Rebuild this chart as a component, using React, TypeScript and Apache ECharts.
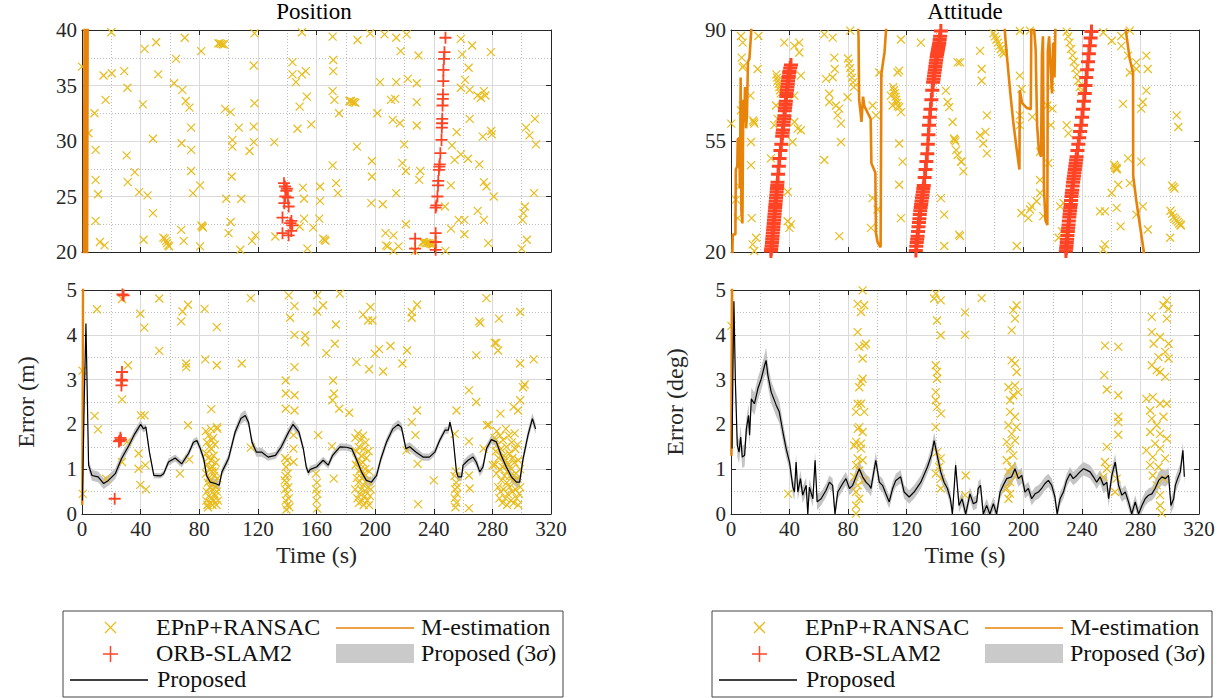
import React, { useEffect, useRef } from 'react';
import * as echarts from 'echarts';

// ---------------- DATA ----------------
const timeMin = 0;
const timeMax = 320;
const timeStep = 40;

// Proposed position error [t, value, 3-sigma half width]
const posProposed: number[][] = [
  [0.3,0.3,0.05],[1.5,2.5,0.1],[2.7,4.25,0.1],[4.5,1.09,0.12],[6.8,0.86,0.12],[11,0.83,0.12],[14.8,0.68,0.12],[18,0.75,0.12],[22.7,0.9,0.12],[27,1.24,0.12],[32,1.53,0.1],[36,1.79,0.1],[40,2.0,0.1],[42,1.9,0.08],[43.6,1.94,0.08],[46,1.38,0.08],[49,0.86,0.06],[53.4,0.85,0.06],[55.7,0.9,0.06],[59,1.16,0.08],[63.6,1.25,0.08],[68,1.12,0.08],[72.7,1.35,0.08],[76,1.6,0.08],[78.4,1.64,0.08],[80.7,1.46,0.1],[83,1.24,0.1],[85,0.86,0.1],[87.5,0.71,0.1],[91,0.68,0.1],[93.6,0.64,0.1],[95.5,0.94,0.1],[100,1.24,0.1],[104.5,1.83,0.1],[108.4,2.13,0.12],[111.4,2.2,0.12],[113.6,2.05,0.1],[116,1.6,0.1],[119,1.38,0.1],[122.7,1.38,0.1],[127,1.27,0.08],[132,1.31,0.08],[136,1.5,0.1],[141,1.83,0.1],[144,2.0,0.1],[148,1.83,0.1],[151,1.46,0.08],[153,1.05,0.08],[154.5,0.92,0.08],[155.5,0.99,0.08],[160,1.05,0.08],[164.5,1.2,0.08],[168,1.09,0.08],[171,1.31,0.08],[176,1.5,0.08],[180.5,1.49,0.08],[184,1.46,0.08],[187,1.24,0.1],[190.7,0.94,0.1],[194,0.75,0.1],[197.5,0.71,0.1],[201,0.86,0.1],[204,1.24,0.1],[207.7,1.6,0.1],[212,1.9,0.1],[215.7,2.0,0.1],[218,1.93,0.1],[221,1.46,0.1],[223.6,1.5,0.1],[228,1.38,0.1],[232.7,1.27,0.08],[237,1.27,0.08],[240.7,1.38,0.08],[244,1.64,0.08],[247.7,1.87,0.08],[250,1.87,0.08],[251,2.05,0.08],[253,1.76,0.08],[255.5,0.94,0.1],[256.6,0.83,0.1],[259,0.83,0.1],[260,1.09,0.1],[263.4,1.2,0.1],[266.8,1.27,0.1],[269,1.16,0.1],[271.4,0.94,0.1],[273.6,1.05,0.1],[276,1.46,0.1],[279.3,1.66,0.1],[282.7,1.61,0.1],[286,1.31,0.1],[289.5,1.05,0.1],[293,0.83,0.12],[296.4,0.71,0.12],[298.6,0.71,0.12],[301,1.24,0.12],[304.3,1.76,0.12],[307.3,2.13,0.12],[309.5,1.9,0.12]
];

// Proposed attitude error [t, value, 3-sigma half width]
const attProposed: number[][] = [
  [0.7,1.46,0.2],[1.4,3.4,0.25],[2,4.75,0.25],[3,2.95,0.25],[4.3,1.53,0.25],[5.5,1.38,0.25],[6.6,1.72,0.25],[7.7,1.27,0.25],[9.3,1.31,0.25],[10.5,1.9,0.25],[12,2.2,0.25],[12.7,1.76,0.25],[13.9,2.57,0.25],[16,2.46,0.25],[18.4,2.8,0.25],[20.7,3.02,0.25],[23,3.32,0.25],[24,3.43,0.3],[25.2,3.1,0.25],[27.5,2.72,0.25],[30.9,2.43,0.25],[33,2.28,0.25],[35.5,1.83,0.22],[37.7,1.46,0.2],[40,1.16,0.18],[42.3,0.6,0.18],[43.4,0.49,0.18],[44.5,1.16,0.18],[45.7,0.49,0.18],[47.5,0.79,0.18],[49,0.42,0.18],[51.4,0.64,0.18],[52.5,0,0.18],[53.6,0.6,0.18],[56,0.34,0.18],[57.5,1.2,0.18],[58.9,0.27,0.18],[61.6,0.34,0.15],[65,0.53,0.15],[67.3,0.71,0.15],[69.5,0.64,0.15],[71.1,0,0.15],[73,0.49,0.15],[76.4,0.68,0.15],[78.6,0.79,0.15],[81,0.57,0.15],[83.2,0.64,0.15],[85.5,0.83,0.18],[87.7,1.01,0.18],[90,0.83,0.18],[92.3,0.71,0.18],[94.5,0.64,0.18],[95.7,0.57,0.18],[99,1.2,0.18],[101.4,0.71,0.15],[103.6,0.64,0.15],[105.9,0.45,0.15],[108.2,0.27,0.15],[110.5,0.57,0.15],[112.7,0.75,0.15],[116,0.83,0.15],[118.4,0.49,0.15],[121.8,0.38,0.15],[125.2,0.49,0.15],[129.8,0.71,0.15],[134.3,1.05,0.15],[137,1.31,0.18],[138.9,1.64,0.18],[141,1.31,0.18],[143.4,0.94,0.18],[145.7,0.71,0.15],[148,0.57,0.15],[150,0.34,0.15],[151.4,0,0.15],[153.6,1.09,0.15],[155.9,0.19,0.15],[158,0.34,0.15],[160.5,0,0.15],[163.4,0.45,0.15],[165.7,0.23,0.15],[168,0.27,0.15],[169,0.57,0.15],[170.6,0.64,0.15],[172.5,0,0.15],[174.8,0.19,0.15],[177,0,0.15],[179.4,0.23,0.15],[181.6,0,0.15],[184,0.49,0.15],[186.2,0.64,0.15],[188.5,0.79,0.18],[191.9,0.83,0.18],[194.2,1.01,0.18],[196.5,0.79,0.18],[198.8,0.86,0.18],[201,0.49,0.15],[203.3,0.57,0.15],[205.6,0.34,0.15],[207.9,0.45,0.15],[210.2,0.49,0.15],[212.4,0.57,0.15],[214.7,0.68,0.15],[217,0.75,0.15],[219.3,0.64,0.15],[221.5,0.38,0.15],[223,0,0.15],[225,0.34,0.15],[227.3,0.49,0.15],[229.5,0.75,0.15],[231.8,0.9,0.15],[234,0.79,0.15],[236.4,0.86,0.15],[238.6,0.94,0.15],[241,1.01,0.15],[243.2,0.98,0.15],[245.5,0.94,0.15],[247.8,0.83,0.15],[250,0.71,0.15],[252.4,0.83,0.15],[254.7,0.64,0.18],[257,0.71,0.18],[258.2,0.34,0.18],[260.4,0.86,0.18],[262.7,1.16,0.18],[265,0.64,0.18],[267.3,0.42,0.15],[269.6,0.49,0.15],[271.8,0.27,0.15],[274,0,0.15],[276.4,0.27,0.15],[278.7,0,0.15],[281,0.19,0.15],[283.2,0.34,0.15],[285.5,0.42,0.15],[287.8,0.45,0.15],[290,0.57,0.18],[292.4,0.75,0.18],[294.7,0.83,0.18],[297,0.79,0.18],[299.2,0.86,0.18],[300.8,0.19,0.18],[302.7,0.34,0.18],[303.8,0.64,0.18],[305.4,0.79,0.18],[307.2,0.94,0.18],[309,1.42,0.18],[310,0.83,0.18]
];

// M-estimation (values above the axis ranges leave the plot)
const posMest: number[][] = [
  [0.2,0.2],[0.6,3.6],[1,12],[1.8,45],[2.2,19],[2.6,45],[3.2,45],[3.5,19],[4,45],[10,120]
];
const attMest: number[][] = [
  [0.3,1.3],[0.6,4.5],[0.8,5.5],[0.9,19],[1.2,25.5],[3,25.5],[3.3,46],[4.3,47],[4.6,55.5],[5.6,56],[6.1,40],[6.6,75],[7.1,33],[7.8,29],[8.4,68],[9,61],[9.6,72],[10.3,59],[10.9,63],[11.6,80],[12.6,81],[13.6,88],[14.5,95],
  [50,120],[86,120],
  [86.5,95],[87.2,88],[87.6,68],[88.6,64],[89.2,61],[90.3,69],[91.2,66],[95.5,62],[96,48],[98.7,45],[99.1,26],[100.3,23],[102.3,21.5],[102.8,76],[104,80],[105,83],[106,90],[107,96],
  [150,120],[186,120],
  [186.5,95],[187.5,88],[189,80],[191,70],[193,61],[195.3,52.5],[197.2,46],[197.5,71],[199,67],[202,65.5],[205,65],[205.3,89],[206,95],[207.3,90],[208.3,84],[209.3,60],[210.5,52],[212,50],[212.6,82],[213.3,88],[214,40],[215,30],[216.3,28.5],[216.6,83],[217.5,88],[218.5,78],[219.5,70],[220.3,86],[221.2,75],[222,96],
  [250,120],[268,120],
  [268.8,95],[270.5,88],[272.6,81],[274.9,76.5],[275,44],[277.2,36],[279.5,28.7],[282.2,20.3],[283,12]
];

// EPnP+RANSAC position error [t, value]
const posEpnp: number[][] = [
  [0,36.7],[8.5,32.5],[4.4,30.7],[9.3,29.2],[9.3,26.5],[11,25.2],[9.3,22.8],[12.2,20.9],[15.4,20.6],[14.7,35.9],[20.3,36.1],[16.1,33.7],[20,39.8],[28.8,36.3],[31,34.8],[30.5,28.7],[31.2,26.3],[36,27.2],[39,25.4],[41.5,33.3],[42.7,38.3],[42,21.1],[44.7,25.1],[48.4,30.2],[48.4,23.5],[50.6,38.9],[52,36],[62.8,35.2],[64.2,37.4],[67.9,29.8],[68.4,34.6],[70.8,33.6],[73.3,33],[74.5,31.2],[74.5,29.2],[74.5,27.3],[75.7,25.3],[70.1,39.3],[67.7,22],[69.4,21],[80.6,26],[81.3,38.1],[80.6,20.5],[97.7,32.9],[101.4,32.6],[98.4,24.8],[100,21.7],[102.6,30.1],[102.6,29.5],[102.1,26.8],[101.4,22.7],[107,31.2],[108.7,24.8],[108,20.2],[114.3,29.1],[117.2,31.3],[117.7,33.4],[117.2,36.8],[117.7,39.7],[117.2,29.9],[118.4,21.5],[116,21],[131.2,29.9],[131.9,21.4],[143.6,37.1],[143.6,36],[146,35.3],[148.5,33.1],[147,31.1],[150,36],[152.7,36.3],[153.4,34],[156.4,31.5],[148.5,22.3],[151.5,23],[151.5,24.8],[150.7,25.8],[150,39.8],[153.8,20.3],[157.8,22.2],[161.9,23],[162.4,25.9],[162.4,24.6],[171.4,36.3],[171.4,37.3],[171,34.5],[172.2,33.7],[171,27.8],[173.4,26.2],[175.4,32.5],[174.6,25.3],[171,39.4],[188,39.1],[187.6,29.5],[196.6,39.7],[197.8,28.2],[197.8,26.8],[197.4,24.4],[201.5,32.5],[203.3,35.3],[205.2,24.3],[206.4,39.6],[207.1,21.7],[210.8,33.7],[213.7,33.8],[212,31.9],[214.4,39.3],[214.4,35.3],[214.4,25.3],[216.9,31.6],[217.4,38.1],[218.6,28],[219.8,29.7],[221,27.3],[221.5,39.6],[222.3,35.6],[221,22.5],[212.5,21.5],[212.5,20.1],[228.4,35.2],[229.6,37.7],[228.4,33.5],[228.4,31.4],[230.8,27.3],[230.1,26.5],[227.2,20.1],[247.6,24.1],[251.7,26],[251.7,22.1],[252.4,29.6],[254.2,28.3],[255.6,30.8],[258.5,39.2],[259.4,37.8],[258.5,34.8],[261.4,35.5],[258.5,28.8],[257,22.9],[260.9,22.9],[260.9,21.6],[263.8,36.6],[264.5,34.6],[263.4,28.4],[264.5,32],[266.2,38.6],[269.9,34.1],[271.1,27.9],[272.2,33.9],[274.2,34.5],[275.2,34.1],[273.5,30.4],[274.2,26.3],[276,25.9],[274.2,22.9],[277.2,20.8],[279,38],[270,23.7],[279.2,30.9],[280.9,25],[279.6,30.6],[300.5,22.9],[302.2,24.1],[301.2,23.5],[303,31.2],[305.3,30.5],[309,32],[309.7,29.7],[308.4,25.3],[303.5,21.1],[300,20.3],[248,20.1],[216,20.5],
  [93,38.8],[94,38.8],[95,38.75],[96,38.7],[97,38.7],[182.5,33.6],[183.5,33.6],[184.5,33.5],[185.5,33.5],[186.5,33.45],[55.5,21.3],[56.5,21.2],[57.5,21],[58,20.8],[58.8,20.6],[59.5,20.5],[81.5,22.4],[82,22.3],[82.5,22.2],[164.5,21.2],[165.5,21.1],[166.2,21],[207.5,20.6],[208.5,20.5],[232.5,20.9],[233.5,20.9],[234.5,20.8],[235.5,20.8],[236.5,20.8],[237.5,20.75],[238.5,20.7],[239.5,20.7],
  [0.5,0.45],[0.3,3.2],[10.2,4.57],[8.6,2.19],[10.9,1.89],[16.4,0.79],[27.3,4.8],[27.3,2.56],[31.4,3.32],[30.7,1.61],[27.3,1.16],[39.8,4.47],[42.5,4.16],[40.2,2.2],[42.7,2.2],[38.6,1.35],[38.6,1.01],[43.2,1.09],[39.8,0.65],[43.6,0.55],[52.7,4.81],[52.7,3.64],[67.7,4.3],[68.6,4.52],[72.3,4.67],[71.1,3.28],[71.1,3.36],[72.3,1.98],[73.2,1.22],[66.8,0.9],[83.6,4.58],[84.1,3.45],[92,4.17],[92,3.32],[88.2,2.34],[92,1.94],[109,3.36],[115.2,1.48],[115.2,4.82],[141,4.88],[145,4.64],[142,4.38],[145,4],[145,3.28],[139,2.98],[139,2.69],[145,2.65],[139,2.35],[145,2.31],[144.3,1.76],[144.3,1.46],[144.3,1.16],[152.3,3.99],[152.3,3.84],
  [160.5,4.88],[160.5,4.52],[164.5,4.66],[175.9,4.92],[173.2,4.23],[172.5,3.8],[166.8,3.59],[171.4,2.98],[171.9,2.69],[170.9,2.54],[175.5,2.35],[182.3,2.26],[161.1,1.76],[170.5,1.51],[171.8,0.79],[191.8,4.45],[196.8,4.62],[195.2,4.32],[198.2,4.32],[187.3,3.39],[195.9,3.23],[199.8,3.58],[202.7,3.68],[205.5,3.18],[210.5,3.75],[218.6,3.36],[221.8,3.65],[225,4.38],[225,4.51],[228.6,4.67],[225,2.05],[228.6,2.31],[227.5,1.76],[221.4,1.42],[229,1.12],[240,0.75],[229.3,0.22],[275.9,4.82],[271,4.3],[271.8,4.26],[284.5,4.36],[299,4.51],[269.1,3.54],[281.6,3.82],[282.7,3.82],[283.9,3.65],[299,3.36],[308.2,3.45],[302,2.89],[301,2.83],[264,2.76],[269,2.5],[255.5,2.31],[299,2.54],[294.5,2.39],[297.5,2.31],[285.5,2.24],[276.4,1.98],[277.5,1.99],[254.3,1.79],[264,1.62],[274,1.46],[280.2,1.09],[264,0.86],[264.5,0.57],[264,0.13],
  [84.5,1.85],[85.2,1.6],[84.8,1.35],[85.5,1.1],[84.6,0.9],[85.8,0.7],[85.1,0.5],[84.9,0.3],[85.6,0.2],[86.3,1.75],[86.8,1.5],[86.1,1.25],[87,1.0],[86.5,0.8],[87.2,0.6],[86.4,0.4],[87.5,0.25],[88,1.9],[88.3,1.45],[87.9,1.2],[88.6,0.95],[88.1,0.75],[88.8,0.55],[88.2,0.35],[89,0.2],[89.5,1.7],[89.8,1.3],[89.2,1.05],[90,0.85],[89.6,0.65],[90.3,0.45],[89.9,0.3],[90.8,1.55],[91.2,1.15],[90.6,0.95],[91.5,0.6],[91,0.4],[91.8,0.2],[92.3,1.9],[92.5,0.8],[92,0.5],[92.8,0.3],[86,0.15],[88.5,1.65],
  [138.5,1.25],[139.2,1.05],[140,1.2],[138.8,0.85],[139.6,0.7],[140.4,0.9],[138.6,0.55],[139.8,0.45],[140.8,0.6],[139,0.3],[140.2,0.2],[141,0.35],[139.5,0.1],[141.5,0.15],[138.3,0.75],
  [159.6,0.9],[160.3,0.7],[159.8,0.55],[160.5,0.45],[160,0.3],[160.4,0.12],
  [186.5,1.7],[187.2,1.4],[186.8,1.1],[187.5,0.8],[186.4,0.55],[187.9,0.35],[188.3,1.8],[188.8,1.5],[188.1,1.2],[189.2,0.95],[188.6,0.7],[189.5,0.45],[188.9,0.25],[190.2,1.65],[190.6,1.3],[190,1.0],[190.9,0.8],[190.4,0.55],[191.2,0.3],[191.8,1.75],[192.3,1.45],[191.6,1.15],[192.6,0.9],[192,0.65],[192.9,0.4],[192.2,0.2],[193.5,1.6],[194,1.25],[193.3,1.0],[194.5,0.75],[193.8,0.5],[194.8,0.3],[195.5,1.4],[196,0.95],[195.3,0.6],[196.5,0.4],[195.8,0.2],[197,0.55],
  [254.2,0.85],[255.3,0.7],[254.6,0.55],[255.8,0.45],[254.3,0.35],[255.5,0.25],[254.8,0.15],[256,0.6],[255,0.95],
  [281.5,1.7],[282.3,1.4],[281.8,1.1],[283,1.85],[283.5,1.55],[282.8,0.9],[284.2,1.25],[283.9,0.6],[284.8,0.35],[285.3,1.75],[285.8,1.45],[285.1,1.0],[286.2,0.75],[285.6,0.5],[286.8,0.25],[287.3,1.65],[287.8,1.3],[287.1,1.05],[288.3,0.85],[287.6,0.55],[288.8,0.35],[289.2,1.9],[289.6,1.5],[289.1,1.2],[290.2,0.95],[289.8,0.7],[290.5,0.45],[290,0.2],[291.2,1.75],[291.6,1.35],[291,1.1],[292.2,0.85],[291.8,0.6],[292.6,0.3],[293.2,1.6],[293.7,1.25],[293,1.0],[294.2,0.75],[293.6,0.5],[294.6,0.25],[295.2,1.8],[295.6,1.45],[295,1.15],[296.2,0.9],[295.8,0.55],[296.6,0.35],[297.2,1.55],[297.7,1.2],[297,0.8],[298.2,0.45],[297.6,0.2],[298.8,1.0],[299,0.6]
];

// EPnP+RANSAC attitude error [t, value]
const attEpnp: number[][] = [
  [6.8,88.1],[8,86],[7.3,81.3],[8,78.2],[8.7,78.7],[18.7,88.1],[18.2,77.7],[13.2,69.3],[8,66.2],[6.8,64.7],[13.7,54.7],[13.7,47.4],[5.7,40.7],[3.4,36.5],[4.6,30.7],[14.1,30.7],[14.8,22.4],[17.1,24.5],[15.9,20.3],[0.2,60.5],[30.8,66.2],[31.9,62],[29.6,60],[46.7,86],[43.3,85],[46.7,82.9],[36.4,86],[47.8,75.6],[43.3,69.3],[43.3,61],[45.6,58.9],[47.8,58.4],[42.1,54.7],[38.7,39],[38.7,29.7],[41,28.7],[39.9,27.6],[27.3,49.5],[63.8,88.6],[69.5,87.6],[70.6,81.3],[64.9,74.6],[69.5,75.1],[67.2,69.9],[67.2,67.3],[71.8,66.2],[74,65.2],[72.9,63.1],[75.2,60.5],[75.2,54.7],[63.8,49],[74,25],[71,77.7],[81.5,89.8],[79.7,68.8],[96.8,66.2],[99.1,63.1],[96.8,37],[100.2,33.4],[95.7,27.6],[101.4,76.6],[113.9,76.6],[115,77.2],[115,65.7],[116.2,64.1],[116.2,87],[109.3,69.3],[110.5,66.2],[115,54.2],[117.3,48.5],[115,41.2],[116.2,30.7],[129.8,86],[146.9,70.9],[148.1,67.3],[149.2,65.7],[151.5,61],[154,52.1],[155,50.6],[157.2,48.5],[155,79.8],[143.5,37],[145.8,31.8],[156,25.5],[145.8,21.9],
  [197.5,89.7],[204.4,89.8],[170.3,83.4],[171.4,77.7],[171.4,74],[156.6,79.8],[197.5,75.6],[198.6,71.4],[206,62.6],[197.5,63.1],[197.5,60],[175,63.1],[174,57.9],[170.3,56.8],[172.5,54.2],[175,51.1],[157.7,48.5],[158.9,45.4],[211.3,51.6],[211.3,42.7],[217,48],[211.3,38.6],[209,36],[205.5,34.4],[204.4,33.4],[198.6,32.3],[203.3,30.7],[213.5,31.3],[227.4,35.4],[225.1,34.4],[226.2,26.6],[224,24.5],[229.5,60],[230.7,57.4],[218.7,60],[219.8,65.2],[216.3,66.2],[218.7,72],[195.4,21.9],[254.6,89.2],[260.3,86.6],[266.9,88.1],[266.9,85],[272.7,89.8],[271.5,81.9],[277.2,79.8],[277.2,77.7],[284,81.9],[272.7,76.6],[285,77.7],[284,70.9],[281.6,67.3],[280.5,65.2],[268.1,66.7],[263.7,46.4],[271.5,49.5],[280.5,48.5],[264.8,41.2],[272.7,41.7],[260.3,38.6],[252.3,32.8],[255.7,32.8],[263.7,33.9],[277.2,31.8],[281.6,34.4],[266.4,28.1],[255.7,22.4],[254.6,20.8],[285,27.1],[304.7,63.1],[305.9,59.4],[307.5,28.6],[300.3,24.5],[156.6,25],
  [31,76],[31.5,75],[32,74],[32.5,73],[33,72],[33.5,71],[34,70],[80,81],[80.7,79.5],[81.4,78],[82,76.5],[82.7,75],[83.4,73.5],[84,72],[111,72],[111.5,71],[112,70],[112.5,69],[113,68],[113.5,67],[114,66],[15.2,61.5],[15.6,61],[16,60.5],[179.5,89],[180.5,88],[181.5,87],[182.5,86],[183.5,85],[184.5,84],[185.5,83],[186.5,82.5],[229.5,89.5],[230.5,88],[231.5,86],[232.5,84],[233.5,82],[234.5,80],[235.5,78],[236.5,76],[237.5,74],[238.5,72],[239.5,70.5],[152.5,55.8],[153,55.3],[153.5,54.8],[262,47.5],[262.6,47],[263.2,46.5],[263.8,46],[300.5,33],[301.5,32],[302.5,31],[303.5,30.5],[304.5,30],[305.5,29.5],[306.5,29],[307.5,28.3],[301.5,41],[302.5,40.5],[303.3,40],
  [0.3,4.2],[39.1,0.45],
  [90,4.99],[86.6,4.69],[91.1,4.66],[88.9,4.51],[86.6,4.06],[87.7,3.73],[91.1,3.76],[92.3,3.8],[90,3.47],[90,3.02],[88.9,2.95],[87.7,2.83],[88.9,2.46],[86.6,2.46],[85.5,2.28],[91.1,2.28],[87.7,1.94],[86.6,1.9],[90,1.83],[85.5,1.61],[88.9,1.57],[84.3,1.53],[88.9,1.46],[86.6,1.24],[90,1.2],[85.5,1.09],[87.7,0.97],[84.3,0.83],[91.1,0.75],[86.6,0.64],[85.5,0.49],[87.7,0.34],[85.5,0.19],[85.5,0.01],
  [140,4.92],[143.4,4.77],[138.9,4.81],[140.9,4.32],[143.4,3.99],[140,3.32],[140.9,3.17],[140.9,3.02],[140,2.72],[140,2.54],[140.9,2.39],[143.6,2.24],[140,1.94],[140.9,1.38],[143.4,1.24],[142.3,1.05],[140,0.9],[143.6,0.79],[143.4,0.57],
  [160,4.5],[160,4.0],[160.5,0.86],[160,0.42],[171.4,4.82],
  [193,4.55],[195.3,4.66],[194.2,4.36],[191.9,4.1],[191.9,3.43],[194.2,3.36],[195.3,3.17],[189.7,2.83],[194.2,2.87],[193,2.65],[196.5,2.72],[190.8,2.54],[190.8,2.28],[194.2,2.17],[189.7,1.98],[195.3,1.94],[191.9,1.79],[194.2,1.64],[188.5,1.61],[190.8,1.46],[193,1.31],[188.5,1.2],[191.9,1.05],[189.7,0.94],[195.3,0.86],[190.8,0.71],[188.5,0.57],[190.8,0.45],[189.7,0.34],
  [255.7,3.76],[264.8,3.73],[255.2,3.1],[257,2.78],[264.8,2.65],[264.8,2.17],[264.8,2.05],[264.8,1.77],[257,1.5],[255.7,1.16],[257,1.01],[254.6,0.83],[263.7,0.79],[262.6,0.49],
  [287.7,4.4],[295.7,4.66],[298,4.77],[299.2,4.58],[298,4.36],[287.7,4.06],[293.4,3.95],[289,3.8],[299.2,3.8],[296.9,3.62],[292.3,3.5],[299.2,3.47],[287.7,3.32],[291.1,3.21],[296.9,3.06],[293.4,3.17],[284,2.57],[288.4,2.61],[286.6,2.31],[293.4,2.46],[298,2.46],[287.7,2.13],[295.7,2.17],[291.1,1.98],[286.6,1.83],[293.4,1.79],[298,1.68],[290,1.57],[284,1.42],[293.4,1.46],[288.4,1.27],[296.9,1.24],[286.6,1.09],[292.3,1.05],[288.4,0.86],[295.7,0.79],[291.1,0.64],[293.4,0.42],[293.4,0.19],[294.6,0.02]
];

// ORB-SLAM2
const posOrb: number[][] = [
  [28.4,4.88],[27.6,4.9],[27.3,3.17],[26.8,3.0],[27.4,2.98],[26.9,2.87],[25.8,1.64],[26.6,1.66],[25.2,1.62],[26.2,1.7],[22.3,0.34],
  [137.8,26.2],[138.5,25.9],[139.4,25.5],[138.7,25],[140.5,24.9],[138,24.4],[141,24.1],[136.8,23.1],[142.9,22.8],[143.5,22.4],[142.8,21.9],[136.8,21.7],[141,21.5],[142,22.6],[139.8,25.7],
  [241.3,24.0],[241.8,24.2],[242.5,25.0],[242.9,26.0],[243.1,26.4],[243.5,27.4],[243.8,27.7],[244.1,27.9],[244.5,28.9],[245.3,30.1],[245.5,31.2],[245.7,31.6],[245.8,32.0],[246.0,33.2],[246.2,33.8],[246.3,34.2],[246.5,35.4],[246.6,36.4],[247.0,37.4],[247.3,38.0],[248.0,39.3],[227.3,21.2],[227.3,20.3],[241.3,21.7],[241.3,20.9],[241.3,20.2]
];
const attOrb: number[][] = [
  [27.3,20.3],[27.5,21],[27.8,22],[28,23],[28.2,24],[28.4,25],[28.6,26],[28.8,27],[29,28],[29.2,29],[29.4,30],[29.6,31],[29.8,32],[30,33],[30.2,34],[30.4,35],[30.6,36],[30.8,37],[31,38],[31.2,39],[31.4,40],[31.6,41],[31.8,42],[32.2,44.5],[32.7,47],[33.2,49.5],[33.8,52],[34.4,54],[35,56.5],[35.2,57.5],[35.5,58.5],[35.8,60],[36,61],[36.3,62],[36.5,63],[36.8,64.5],[37,65.5],[37.3,66.5],[37.5,67.5],[37.8,69],[38,70],[38.3,71],[38.5,72],[38.8,73],[39,74],[39.3,75],[39.5,75.5],[39.8,76.5],[40,77],[40.5,78],[41,79],
  [126.4,20.5],[126.7,21.8],[127,23],[127.3,24],[127.6,25],[127.9,26.5],[128.2,28],[128.5,29.3],[128.8,30.5],[129.1,31.8],[129.4,33],[129.7,34],[130,35],[130.3,36],[130.6,37],[130.9,38],[131.2,39],[131.5,40],[131.8,41],[132.4,43.5],[133,46],[133.6,48.5],[134.2,51],[134.6,54],[135,57],[135.4,60],[135.9,62.5],[136.4,65],[137,68],[137.6,71],[138.2,73.5],[138.5,74.5],[138.8,75.5],[139.1,76.5],[139.4,77.5],[139.7,78.5],[140,79.5],[140.3,80.5],[140.6,81.5],[140.9,82.3],[141.2,83],[141.5,83.8],[141.8,84.5],[142.1,85.3],[142.4,86],[142.7,87],[143,88],[143.5,89.7],
  [229,20.3],[229.2,21.2],[229.4,22],[229.6,23],[229.8,24],[230,25.2],[230.3,26.5],[230.5,27.5],[230.8,28.5],[231,29.8],[231.3,31],[231.5,32],[231.8,33],[232,34],[232.3,35],[232.5,36.2],[232.8,37.5],[233,38.5],[233.3,39.5],[233.6,40.8],[233.9,42],[234.2,43],[234.5,44],[234.8,45],[235.1,46],[235.4,47],[235.7,48],[236,49],[236.3,50],[236.9,52],[237.5,54],[238.1,56],[238.7,58],[239.3,60],[240,62.5],[240.7,65],[241.3,67.5],[241.9,70],[242.4,72.5],[242.9,75],[243.5,77.5],[244.1,80],[244.7,82.5],[245.3,85],[245.9,87.5],[246.5,89.5]
];

// axis ranges
const posTopRange = [20, 40, 5];
const attTopRange = [20, 90, 35];
const errRange = [0, 5, 1];

// ---------------- STYLE ----------------
const FONT = 'Liberation Serif';
const AX = '#262626';
const YELLOW = '#E9BC1B';
const ORANGE = '#E8830A';
const RED = '#FF4426';
const BAND = '#C4C4C4';
const X_SYM = 'path://M0,0L10,10M10,0L0,10';
const P_SYM = 'path://M5,0L5,10M0,5L10,5';

const grids = [
  { left: 82, top: 30, width: 469, height: 222 },
  { left: 82, top: 290, width: 469, height: 224 },
  { left: 731, top: 30, width: 468, height: 222 },
  { left: 731, top: 290, width: 468, height: 224 },
];

function xAxes(gi: number, labels: boolean) {
  const base = {
    type: 'value', gridIndex: gi, min: timeMin, max: timeMax, interval: timeStep,
    axisLine: { show: true, onZero: false, lineStyle: { color: AX, width: 1 } },
    axisTick: { show: true, inside: true, length: 5, lineStyle: { color: AX } },
  };
  return [
    {
      ...base, position: 'bottom',
      axisLabel: { show: labels, color: AX, fontFamily: FONT, fontSize: 21, margin: 4 },
      splitLine: { show: true, lineStyle: { color: '#DADADA', width: 1 } },
      minorTick: { show: false, splitNumber: 2 },
      minorSplitLine: { show: true, lineStyle: { color: '#BDBDBD', width: 1, type: [1, 2] } },
      name: labels ? 'Time (s)' : '', nameLocation: 'middle', nameGap: 29,
      nameTextStyle: { color: AX, fontFamily: FONT, fontSize: 24 },
    },
    { ...base, position: 'top', axisLabel: { show: false }, splitLine: { show: false } },
  ];
}

function yAxes(gi: number, min: number, max: number, interval: number, offset: number, name: string) {
  const base = {
    type: 'value', gridIndex: gi, min: min - offset, max: max - offset, interval,
    axisLine: { show: true, onZero: false, lineStyle: { color: AX, width: 1 } },
    axisTick: { show: true, inside: true, length: 5, lineStyle: { color: AX } },
  };
  return [
    {
      ...base, position: 'left',
      axisLabel: {
        show: true, color: AX, fontFamily: FONT, fontSize: 21, margin: 5,
        formatter: (v: number) => String(Math.round((v + offset) * 10) / 10),
      },
      splitLine: { show: true, lineStyle: { color: '#DADADA', width: 1 } },
      minorTick: { show: false, splitNumber: 2 },
      minorSplitLine: { show: true, lineStyle: { color: '#BDBDBD', width: 1, type: [1, 2] } },
      name, nameLocation: 'middle', nameGap: 44, nameRotate: 90,
      nameTextStyle: { color: AX, fontFamily: FONT, fontSize: 24 },
    },
    { ...base, position: 'right', axisLabel: { show: false }, splitLine: { show: false } },
  ];
}

function shift(data: number[][], offset: number) {
  return data.map((d) => [d[0], d[1] - offset]);
}

function scatter(data: number[][], gi: number, offset: number, kind: 'x' | 'p', size: number, width: number) {
  return {
    type: 'scatter', xAxisIndex: gi * 2, yAxisIndex: gi * 2, clip: true, silent: true,
    symbol: kind === 'x' ? X_SYM : P_SYM, symbolSize: size,
    itemStyle: { color: 'transparent', borderColor: kind === 'x' ? YELLOW : RED, borderWidth: width, opacity: 1 },
    data: shift(data, offset), z: kind === 'x' ? 3 : 5,
  };
}

function line(data: number[][], gi: number, offset: number, color: string, width: number, z: number) {
  return {
    type: 'line', xAxisIndex: gi * 2, yAxisIndex: gi * 2, clip: true, silent: true,
    showSymbol: false, symbol: 'none', lineStyle: { color, width }, data: shift(data, offset), z,
  };
}

function band(data: number[][], gi: number) {
  return {
    type: 'custom', xAxisIndex: gi * 2, yAxisIndex: gi * 2, clip: true, silent: true, z: 2,
    data: [[data[0][0], data[0][1]]],
    renderItem: (_p: any, api: any) => {
      const up = data.map((d) => api.coord([d[0], d[1] + d[2]]));
      const lo = data.slice().reverse().map((d) => api.coord([d[0], d[1] - d[2]]));
      return { type: 'polygon', shape: { points: up.concat(lo) }, style: { fill: BAND } };
    },
  };
}

function legend(dx: number) {
  const ts = { fontFamily: FONT, fontSize: 24, fill: '#111' };
  return [
    { type: 'rect', shape: { x: 63 + dx, y: 611, width: 500, height: 86 }, style: { fill: 'none', stroke: '#444', lineWidth: 1 } },
    { type: 'line', shape: { x1: 105 + dx, y1: 622, x2: 116 + dx, y2: 633 }, style: { stroke: YELLOW, lineWidth: 1.3 } },
    { type: 'line', shape: { x1: 116 + dx, y1: 622, x2: 105 + dx, y2: 633 }, style: { stroke: YELLOW, lineWidth: 1.3 } },
    { type: 'text', x: 156 + dx, y: 627, style: { ...ts, text: 'EPnP+RANSAC', verticalAlign: 'middle' } },
    { type: 'line', shape: { x1: 110.5 + dx, y1: 646, x2: 110.5 + dx, y2: 662 }, style: { stroke: RED, lineWidth: 1.5 } },
    { type: 'line', shape: { x1: 103 + dx, y1: 654, x2: 118 + dx, y2: 654 }, style: { stroke: RED, lineWidth: 1.5 } },
    { type: 'text', x: 156 + dx, y: 653, style: { ...ts, text: 'ORB-SLAM2', verticalAlign: 'middle' } },
    { type: 'line', shape: { x1: 70 + dx, y1: 680, x2: 148 + dx, y2: 680 }, style: { stroke: '#000', lineWidth: 1.3 } },
    { type: 'text', x: 157 + dx, y: 679, style: { ...ts, text: 'Proposed', verticalAlign: 'middle' } },
    { type: 'line', shape: { x1: 336 + dx, y1: 628, x2: 414 + dx, y2: 628 }, style: { stroke: ORANGE, lineWidth: 1.3 } },
    { type: 'text', x: 421 + dx, y: 627, style: { ...ts, text: 'M-estimation', verticalAlign: 'middle' } },
    { type: 'rect', shape: { x: 336 + dx, y: 644, width: 78, height: 19 }, style: { fill: '#CACACA' } },
    {
      type: 'text', x: 421 + dx, y: 653,
      style: {
        text: '{a|Proposed (3}{b|σ}{a|)}', verticalAlign: 'middle', fontFamily: FONT, fontSize: 24, fill: '#111',
        rich: { a: { fontFamily: FONT, fontSize: 24, fill: '#111' }, b: { fontFamily: FONT, fontSize: 24, fontStyle: 'italic', fill: '#111' } },
      },
    },
  ];
}

function buildOption() {
  const pOff = 0;
  const aOff = attTopRange[0];
  return {
    animation: false,
    backgroundColor: '#fff',
    title: [
      { text: 'Position', left: 314, top: 0, padding: 0, textAlign: 'center', textStyle: { fontFamily: FONT, fontSize: 23, fontWeight: 'normal', color: '#000' } },
      { text: 'Attitude', left: 965, top: 0, padding: 0, textAlign: 'center', textStyle: { fontFamily: FONT, fontSize: 23, fontWeight: 'normal', color: '#000' } },
    ],
    grid: grids,
    xAxis: [...xAxes(0, false), ...xAxes(1, true), ...xAxes(2, false), ...xAxes(3, true)],
    yAxis: [
      ...yAxes(0, posTopRange[0], posTopRange[1], posTopRange[2], pOff, ''),
      ...yAxes(1, errRange[0], errRange[1], errRange[2], 0, 'Error (m)'),
      ...yAxes(2, attTopRange[0], attTopRange[1], attTopRange[2], aOff, ''),
      ...yAxes(3, errRange[0], errRange[1], errRange[2], 0, 'Error (deg)'),
    ],
    series: [
      band(posProposed, 1),
      band(attProposed, 3),
      scatter(posEpnp, 0, pOff, 'x', 8, 1.2),
      scatter(posEpnp, 1, 0, 'x', 8, 1.2),
      scatter(attEpnp, 2, aOff, 'x', 8, 1.2),
      scatter(attEpnp, 3, 0, 'x', 8, 1.2),
      line(posMest, 0, pOff, ORANGE, 2.4, 4),
      line(posMest, 1, 0, ORANGE, 2.4, 4),
      line(attMest, 2, aOff, ORANGE, 2.6, 4),
      line(attMest, 3, 0, ORANGE, 2.6, 4),
      scatter(posOrb, 0, pOff, 'p', 12, 1.8),
      scatter(posOrb, 1, 0, 'p', 12, 1.8),
      scatter(attOrb, 2, aOff, 'p', 14, 3),
      scatter(attOrb, 3, 0, 'p', 14, 3),
      line(posProposed, 1, 0, '#000', 1.2, 6),
      line(attProposed, 3, 0, '#000', 1.2, 6),
    ],
    graphic: [...legend(0), ...legend(649)],
  };
}

export default function App() {
  const ref = useRef<HTMLDivElement>(null);
  useEffect(() => {
    const chart = echarts.init(ref.current as HTMLDivElement, null, { renderer: 'svg' });
    chart.setOption(buildOption() as any);
    return () => chart.dispose();
  }, []);
  return (
    <div
      ref={ref}
      style={{ position: 'absolute', left: 0, top: 0, width: 1223, height: 698, background: '#fff' }}
    />
  );
}
